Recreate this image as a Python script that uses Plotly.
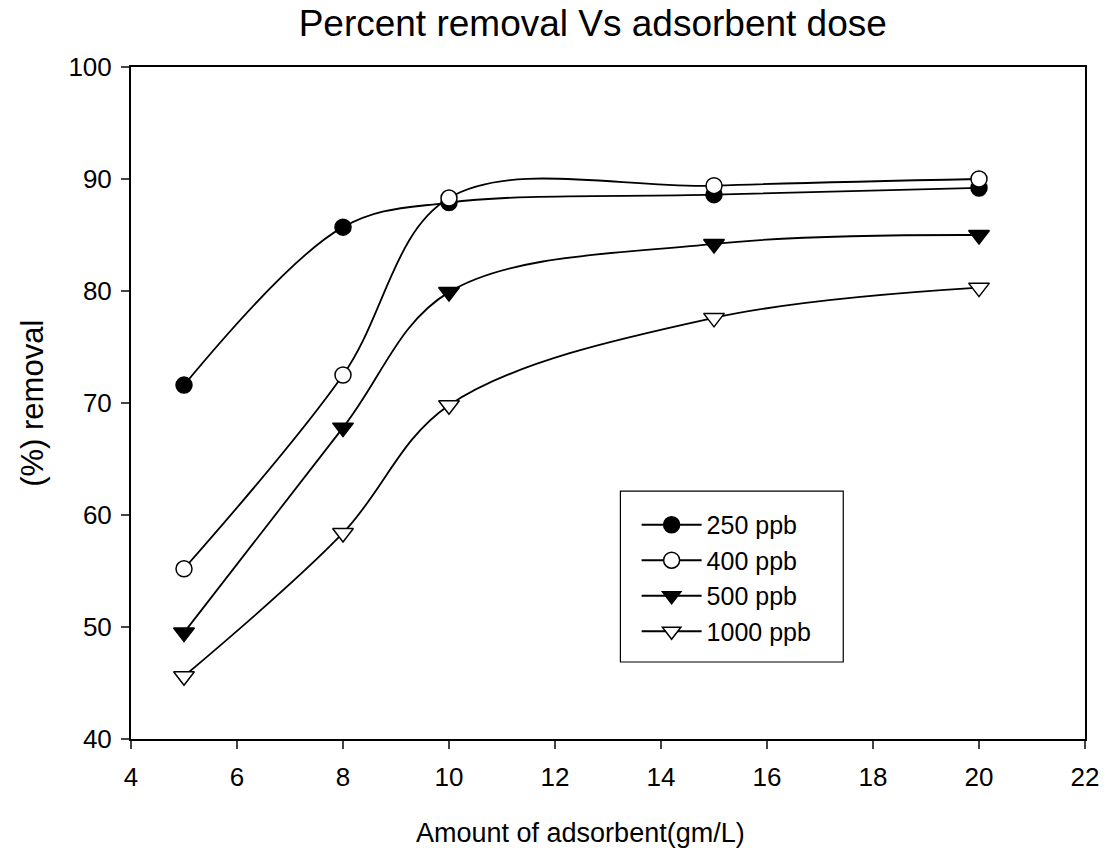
import plotly.graph_objects as go

dose = [5, 8, 10, 15, 20]
r250 = [71.6, 85.7, 87.9, 88.6, 89.2]
r400 = [55.2, 72.5, 88.3, 89.4, 90.0]
r500 = [49.5, 67.8, 79.9, 84.2, 85.0]
r1000 = [45.6, 58.4, 69.8, 77.6, 80.3]
names = ["250 ppb", "400 ppb", "500 ppb", "1000 ppb"]
x_ticks = [4, 6, 8, 10, 12, 14, 16, 18, 20, 22]
y_ticks = [40, 50, 60, 70, 80, 90, 100]

FONT = "Arial, Liberation Sans, sans-serif"

styles = [
    dict(symbol="circle", color="black", size=16),
    dict(symbol="circle", color="white", size=16),
    dict(symbol="triangle-down", color="black", size=18),
    dict(symbol="triangle-down", color="white", size=18),
]

fig = go.Figure()
for name, ys, st in zip(names, [r250, r400, r500, r1000], styles):
    fig.add_trace(go.Scatter(
        x=dose, y=ys, name=name, mode="lines+markers",
        line=dict(color="black", width=1.8, shape="spline", smoothing=1.0),
        marker=dict(symbol=st["symbol"], color=st["color"], size=st["size"],
                    line=dict(color="black", width=1.5)),
    ))

fig.update_layout(
    width=1111, height=854,
    margin=dict(l=131, r=17, t=67, b=115),
    paper_bgcolor="white", plot_bgcolor="white",
    font=dict(family=FONT, color="black", size=22),
    title=dict(text="Percent removal Vs adsorbent dose", font=dict(size=37, family=FONT),
               xref="paper", x=0.484, xanchor="center",
               yref="container", y=0.973, yanchor="middle"),
    showlegend=True,
    legend=dict(x=0.530, y=0.3527, xanchor="left", yanchor="top",
                borderwidth=0, bgcolor="rgba(0,0,0,0)",
                itemwidth=60,
                font=dict(size=25, family=FONT)),
)
# legend frame
fig.add_shape(type="rect", xref="paper", yref="paper",
              x0=0.513, x1=0.7466, y0=0.1146, y1=0.369,
              line=dict(color="black", width=1.2), fillcolor="rgba(0,0,0,0)")

fig.update_xaxes(range=[4, 22], tickvals=x_ticks, ticks="outside", ticklen=8, tickwidth=1.5,
                 showline=True, linecolor="black", linewidth=2, mirror=True,
                 ticklabelstandoff=6,
                 showgrid=False, zeroline=False, tickfont=dict(size=26))
fig.update_yaxes(range=[40, 100], tickvals=y_ticks, ticks="outside", ticklen=8, tickwidth=1.5,
                 showline=True, linecolor="black", linewidth=2, mirror=True,
                 ticklabelstandoff=4,
                 showgrid=False, zeroline=False, tickfont=dict(size=26))

fig.add_annotation(text="Amount of adsorbent(gm/L)", xref="paper", yref="paper",
                   x=0.471, y=-0.14, xanchor="center", yanchor="middle",
                   showarrow=False, font=dict(size=27, family=FONT))
fig.add_annotation(text="(%) removal", xref="paper", yref="paper",
                   x=-0.104, y=0.5, xanchor="center", yanchor="middle", textangle=-90,
                   showarrow=False, font=dict(size=31, family=FONT))

fig.write_html("out.html")
